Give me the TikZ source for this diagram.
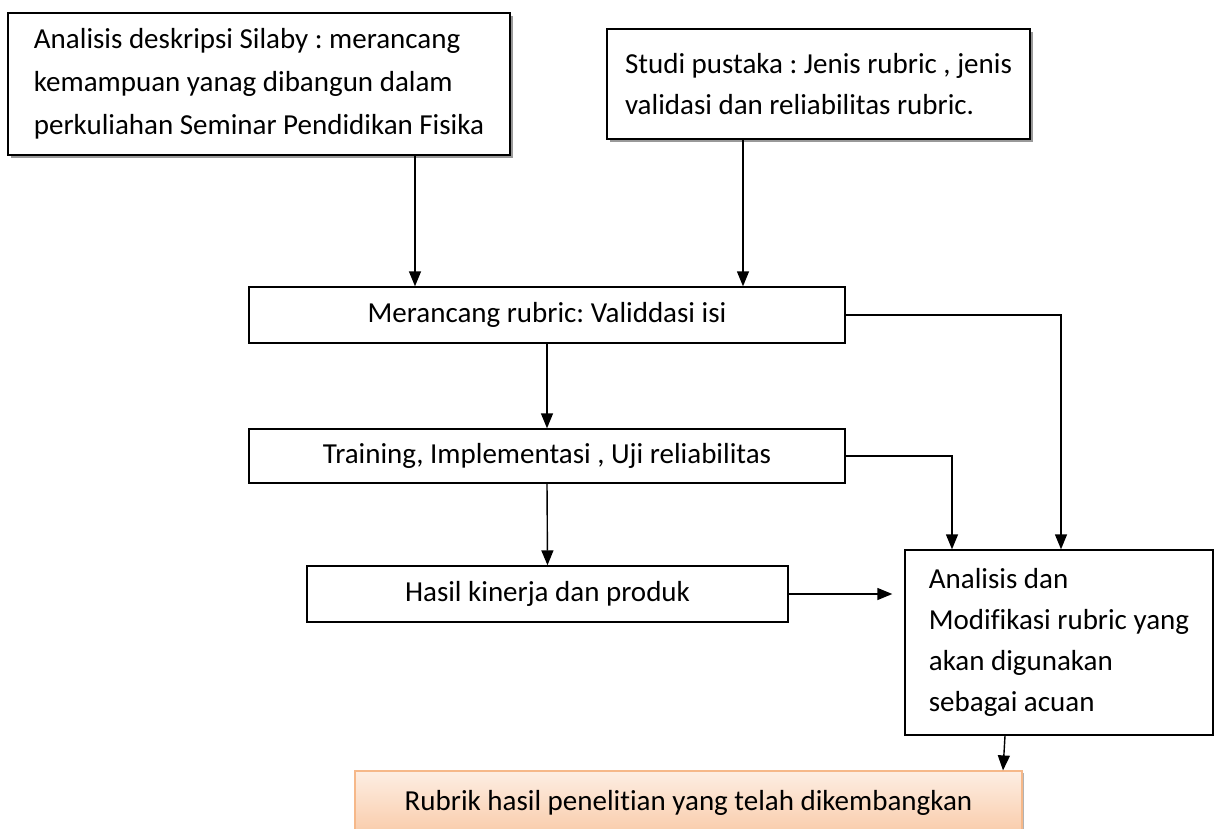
\documentclass[tikz,border=0pt]{standalone}
\usepackage{fontspec}
\setmainfont{Carlito}[Ligatures=NoCommon]
\usepackage{tikz}
\usetikzlibrary{arrows.meta, positioning, shadows}
\definecolor{peachtop}{HTML}{FDEEE3}
\definecolor{peachbot}{HTML}{F9CBA9}
\definecolor{peachline}{HTML}{F6B889}
\frenchspacing

\tikzset{
  txt/.style={font=\fontsize{29}{41}\selectfont, inner sep=0pt},
  flowbox/.style={txt, draw, line width=1.4pt, fill=white, align=center},
  shadowbox/.style={flowbox, align=left,
    drop shadow={shadow xshift=3pt, shadow yshift=-3pt, fill=gray!80, opacity=1}},
  resultbox/.style={txt, draw=peachline, line width=1.2pt, top color=peachtop,
    bottom color=peachbot, align=center,
    drop shadow={shadow xshift=2pt, shadow yshift=-2pt, fill=gray!60, opacity=1}},
  arr/.style={line width=1.4pt, -{Triangle[length=15pt, width=12pt]}},
  link/.style={line width=1.4pt}
}

\begin{document}
\begin{tikzpicture}[x=1pt, y=-1pt]
    \useasboundingbox (0,0) rectangle (1218,828);

    % top boxes
    \node[shadowbox, font=\fontsize{29}{43}\selectfont, minimum width=502pt, minimum height=142pt] (silaby) at (259,84)
      {Analisis deskripsi Silaby : merancang\\
       kemampuan yanag dibangun dalam\\
       perkuliahan Seminar Pendidikan Fisika};
    \node[shadowbox, minimum width=423pt, minimum height=110pt] (pustaka) at (818.5,84)
      {Studi pustaka : Jenis rubric , jenis\\
       validasi dan reliabilitas rubric.};

    % middle chain
    \node[flowbox, minimum width=596pt, minimum height=56pt] (merancang) at (547,315)
      {Merancang rubric: Validdasi isi};
    \node[flowbox, minimum width=596pt, minimum height=54pt] (training) at (547,456)
      {Training, Implementasi , Uji reliabilitas};
    \node[flowbox, minimum width=481pt, minimum height=56pt] (hasil) at (547.5,594)
      {Hasil kinerja dan produk};

    \node[flowbox, align=left, minimum width=308pt, minimum height=185pt] (modif) at (1059,642.5)
      {Analisis dan\\
       Modifikasi rubric yang\\
       akan digunakan\\
       sebagai acuan};

    \node[resultbox, minimum width=667pt, minimum height=64pt] (rubrik) at (688.5,803)
      {Rubrik hasil penelitian yang telah dikembangkan};

    % connectors
    \draw[arr] (silaby.south -| 415,0) -- (merancang.north -| 415,0);
    \draw[arr] (pustaka.south -| 743,0) -- (merancang.north -| 743,0);
    \draw[arr] (merancang.south) -- (training.north);
    \draw[arr] (training.south) -- (hasil.north);
    \draw[arr] (merancang.east) -| ([xshift=2pt]modif.north);
    \draw[arr] (training.east) -| ([xshift=-107pt]modif.north);
    \draw[arr] (hasil.east) -- ([xshift=-12pt]hasil.east -| modif.west);
    \draw[arr] ([xshift=-54pt]modif.south) -- ([xshift=314.5pt]rubrik.north);
\end{tikzpicture}
\end{document}
